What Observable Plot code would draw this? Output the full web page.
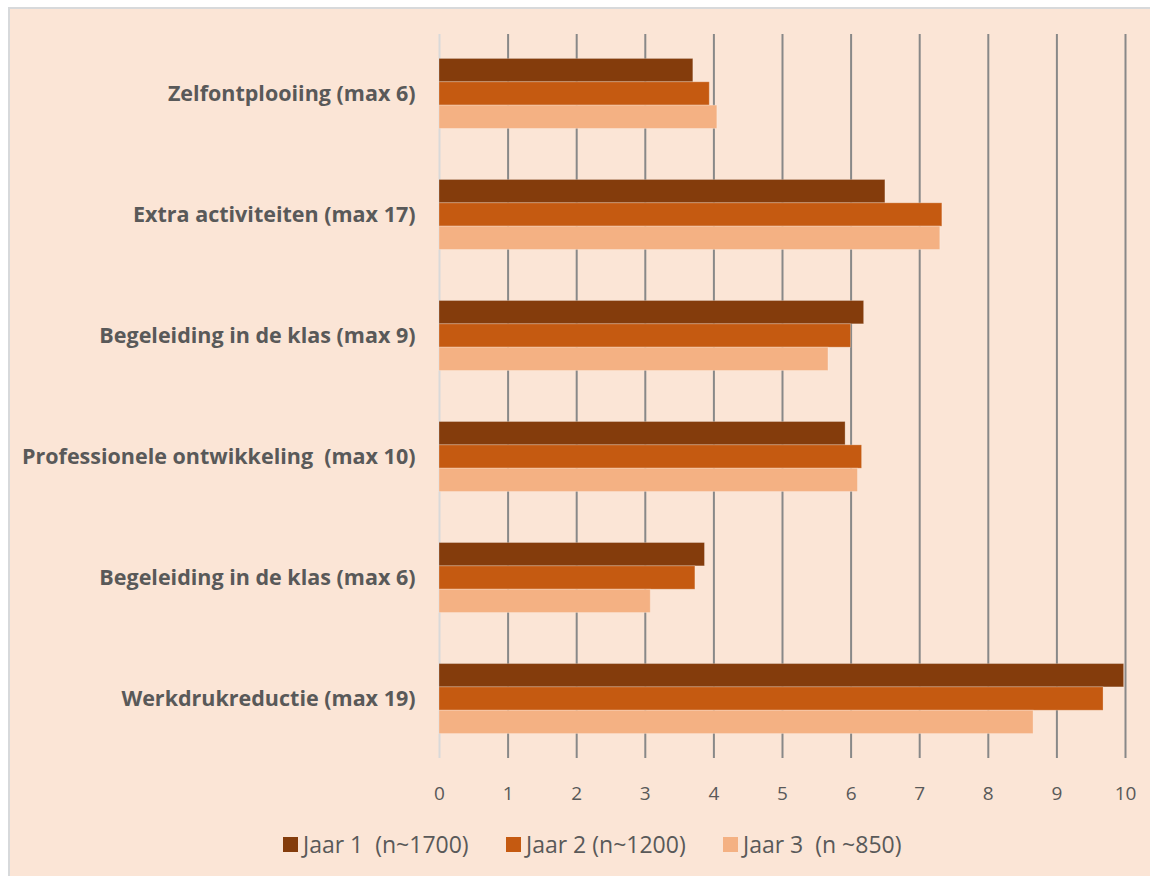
<!DOCTYPE html>
<html>
<head>
<meta charset="utf-8">
<script src="https://cdn.jsdelivr.net/npm/d3@7"></script>
<script src="https://cdn.jsdelivr.net/npm/@observablehq/plot@0.6"></script>
<style>
  html, body { margin: 0; padding: 0; background: #ffffff; width: 1150px; height: 876px; overflow: hidden; }
  #frame { position: absolute; left: 8px; top: 7px; width: 1142px; height: 869px;
           background: #fbe5d6; border-top: 2px solid #d7d9db; border-left: 2px solid #d7d9db; }
  #chart { position: absolute; left: 0; top: 0; }
  #legend { position: absolute; top: 830px; left: 283px; font-family: "Open Sans", "Liberation Sans", sans-serif;
            font-size: 23px; color: #595959; white-space: pre; }
  .item { display: flex; align-items: center; position: absolute; top: 0; height: 28px; }
  .sw { width: 15px; height: 15px; margin-right: 5px; box-sizing: border-box; }
</style>
</head>
<body>
<div id="frame"></div>
<div id="chart"></div>
<div id="legend"></div>
<script>
const categories = [
  "Zelfontplooiing (max 6)",
  "Extra activiteiten (max 17)",
  "Begeleiding in de klas (max 9)",
  "Professionele ontwikkeling  (max 10)",
  "Begeleiding in de klas (max 6)",
  "Werkdrukreductie (max 19)"
];
const seriesNames = ["Jaar 1  (n~1700)", "Jaar 2 (n~1200)", "Jaar 3  (n ~850)"];
const jaar1 = [3.70, 6.50, 6.19, 5.92, 3.87, 9.98];
const jaar2 = [3.94, 7.33, 6.00, 6.16, 3.73, 9.68];
const jaar3 = [4.05, 7.30, 5.67, 6.10, 3.08, 8.66];
const xTicks = [0, 1, 2, 3, 4, 5, 6, 7, 8, 9, 10];
const colors = ["#843c0c", "#c55a11", "#f4b183"];

const seriesValues = [jaar1, jaar2, jaar3];
const rows = [];
seriesValues.forEach((vals, s) => vals.forEach((v, i) => rows.push({category: categories[i], series: seriesNames[s], value: v})));

const bw = 70; // sub-band layout inside each category band
const sub = bw / 3;
const barMarks = seriesNames.map((name, s) =>
  Plot.barX(rows.filter(d => d.series === name), {
    x: "value", y: "category", fill: colors[s],
    stroke: "#ffffff", strokeOpacity: 0.25, strokeWidth: 1,
    insetTop: s * sub, insetBottom: (2 - s) * sub
  })
);

const chart = Plot.plot({
  width: 1150,
  height: 876,
  marginLeft: 439,
  marginRight: 25,
  marginTop: 34,
  marginBottom: 118,
  style: { background: "transparent", fontFamily: "'Open Sans', 'Liberation Sans', sans-serif", color: "#595959" },
  x: { domain: [0, 10], ticks: xTicks, label: null },
  y: { domain: categories, paddingInner: 0.4215, paddingOuter: 0.202, round: false, label: null },
  marks: [
    Plot.ruleX(xTicks.filter(t => t > 0), { stroke: "#888888", strokeWidth: 2 }),
    Plot.ruleX([0], { stroke: "#d9d9d9", strokeWidth: 2 }),
    ...barMarks,
    Plot.axisX({ ticks: xTicks, tickSize: 0, tickPadding: 28, fontSize: 19, fill: "#595959", label: null }),
    Plot.axisY({ tickSize: 0, tickPadding: 24, fontSize: 21.5, fontWeight: "bold", fill: "#595959", label: null })
  ]
});
document.getElementById("chart").appendChild(chart);

const legend = document.getElementById("legend");
const lefts = [0, 223, 440];
seriesNames.forEach((name, s) => {
  const it = document.createElement("div");
  it.className = "item";
  it.style.left = lefts[s] + "px";
  const sw = document.createElement("div");
  sw.className = "sw";
  sw.style.background = colors[s];
  const tx = document.createElement("span");
  tx.textContent = name;
  it.appendChild(sw); it.appendChild(tx);
  legend.appendChild(it);
});
</script>
</body>
</html>
